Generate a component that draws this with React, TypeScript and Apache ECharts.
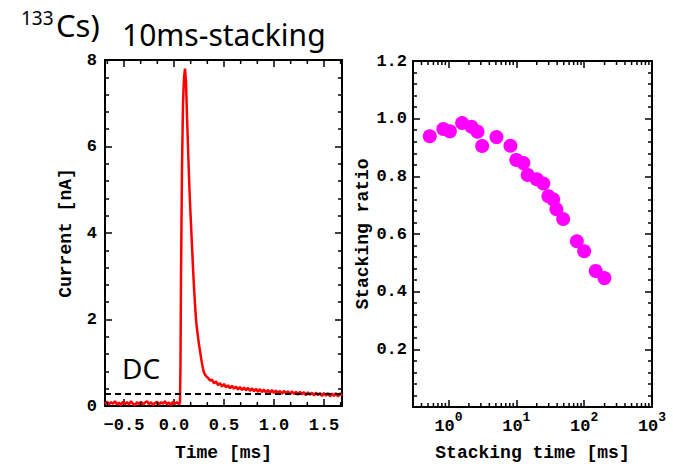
import React, { useEffect, useRef } from "react";
import * as echarts from "echarts";

// ---------- Data ----------
// Left panel: current trace [time ms, current nA]
const baselineTrace: number[][] = [
  [-0.69, 0.05], [-0.67, 0.1], [-0.65, 0.03], [-0.63, 0.09], [-0.61, 0.05], [-0.59, 0.11],
  [-0.57, 0.03], [-0.55, 0.08], [-0.53, 0.02], [-0.51, 0.1], [-0.49, 0.04], [-0.47, 0.09],
  [-0.45, 0.03], [-0.43, 0.11], [-0.41, 0.05], [-0.39, 0.02], [-0.37, 0.09], [-0.35, 0.04],
  [-0.33, 0.1], [-0.31, 0.03], [-0.29, 0.08], [-0.27, 0.11], [-0.25, 0.04], [-0.23, 0.09],
  [-0.21, 0.02], [-0.19, 0.07], [-0.17, 0.1], [-0.15, 0.03], [-0.13, 0.09], [-0.11, 0.05],
  [-0.09, 0.11], [-0.07, 0.04], [-0.05, 0.08], [-0.03, 0.02], [-0.01, 0.1], [0.01, 0.05],
  [0.03, 0.09], [0.05, 0.04], [0.06, 0.08],
];
const pulseTrace: number[][] = [
  [0.065, 1.0], [0.07, 3.0], [0.08, 5.5], [0.09, 7.0], [0.1, 7.6], [0.11, 7.8], [0.12, 7.5],
  [0.13, 6.7], [0.14, 6.0], [0.15, 5.3], [0.16, 4.7], [0.17, 4.2], [0.18, 3.7], [0.19, 3.2],
  [0.2, 2.75], [0.21, 2.35], [0.22, 2.0], [0.23, 1.78], [0.24, 1.6], [0.25, 1.42], [0.26, 1.28],
  [0.27, 1.12], [0.28, 0.98], [0.29, 0.86], [0.3, 0.77],
];
const tailTrace: number[][] = [
  [0.32, 0.69], [0.34, 0.65], [0.36, 0.59], [0.38, 0.61], [0.4, 0.52], [0.42, 0.57], [0.44, 0.48],
  [0.46, 0.53], [0.48, 0.45], [0.5, 0.51], [0.52, 0.43], [0.54, 0.48], [0.56, 0.41], [0.58, 0.47],
  [0.6, 0.4], [0.62, 0.45], [0.64, 0.38], [0.66, 0.44], [0.68, 0.37], [0.7, 0.43], [0.72, 0.36],
  [0.74, 0.42], [0.76, 0.35], [0.78, 0.41], [0.8, 0.34], [0.82, 0.4], [0.84, 0.33], [0.86, 0.39],
  [0.88, 0.32], [0.9, 0.38], [0.92, 0.31], [0.94, 0.37], [0.96, 0.3], [0.98, 0.37], [1.0, 0.3],
  [1.02, 0.36], [1.04, 0.29], [1.06, 0.35], [1.08, 0.28], [1.1, 0.35], [1.12, 0.29], [1.14, 0.34],
  [1.16, 0.27], [1.18, 0.34], [1.2, 0.28], [1.22, 0.33], [1.24, 0.26], [1.26, 0.33], [1.28, 0.27],
  [1.3, 0.32], [1.32, 0.25], [1.34, 0.32], [1.36, 0.26], [1.38, 0.31], [1.4, 0.24], [1.42, 0.31],
  [1.44, 0.25], [1.46, 0.3], [1.48, 0.23], [1.5, 0.3], [1.52, 0.24], [1.54, 0.3], [1.56, 0.22],
  [1.58, 0.29], [1.6, 0.23], [1.62, 0.3], [1.64, 0.22], [1.66, 0.29], [1.68, 0.24],
];
const dcLevel = 0.29;

// Right panel: stacking time [ms] vs stacking ratio
const stackingTime: number[] = [
  0.53, 0.84, 1.05, 1.59, 2.19, 2.68, 3.14, 5.1, 8.2, 10, 12.7, 14.7, 20, 25, 29.7, 35, 39, 49, 78, 100, 148, 199,
];
const stackingRatio: number[] = [
  0.939, 0.964, 0.956, 0.985, 0.972, 0.955, 0.905, 0.936, 0.906, 0.857, 0.846, 0.805, 0.79, 0.775, 0.731, 0.72,
  0.686, 0.652, 0.575, 0.54, 0.472, 0.447,
];

// Axis ranges / labels
const leftX = { min: -0.69, max: 1.68 };
const leftY = { min: 0, max: 8, interval: 2 };
const rightX = { min: 0.3, max: 1000 };
const rightY = { min: 0, max: 1.2, interval: 0.2 };

const MONO = '"Liberation Mono", "DejaVu Sans Mono", monospace';
const SANS = '"Noto Sans", "Open Sans", sans-serif';

// minor tick positions (axis decoration)
const leftXMinor: number[] = [];
for (let k = -5; k <= 11; k++) {
  const v = k / 6;
  if (k % 3 !== 0 && v > leftX.min && v < leftX.max) leftXMinor.push(v);
}
const rightXMinor: number[] = [];
for (let d = -1; d <= 2; d++) {
  for (let m = 2; m <= 9; m++) {
    const v = m * Math.pow(10, d);
    if (v > rightX.min * 1.001 && v < rightX.max) rightXMinor.push(v);
  }
}

function minorTickSeries(xi: number, yi: number, values: number[], yMin: number, yMax: number, len: number) {
  return {
    type: "custom",
    xAxisIndex: xi,
    yAxisIndex: yi,
    silent: true,
    clip: false,
    z: 10,
    data: [[values[0], (yMin + yMax) / 2]],
    renderItem: (_p: any, api: any) => {
      const children: any[] = [];
      values.forEach((v) => {
        const b = api.coord([v, yMin]);
        const t = api.coord([v, yMax]);
        children.push({
          type: "line",
          shape: { x1: b[0], y1: b[1], x2: b[0], y2: b[1] - len },
          style: { stroke: "#000", lineWidth: 1.5 },
        });
        children.push({
          type: "line",
          shape: { x1: t[0], y1: t[1], x2: t[0], y2: t[1] + len },
          style: { stroke: "#000", lineWidth: 1.5 },
        });
      });
      return { type: "group", children };
    },
  };
}

const axisLineStyle = { show: true, onZero: false, lineStyle: { color: "#000", width: 2 } };
const majorTick = { show: true, inside: true, length: 7, lineStyle: { color: "#000", width: 1.5 } };
const minorTick = { show: true, splitNumber: 5, length: 4, lineStyle: { color: "#000", width: 1.5 } };
const labelStyle = { color: "#000", fontFamily: MONO, fontWeight: "bold" as const, fontSize: 17 };
const nameStyle = { color: "#000", fontFamily: MONO, fontWeight: "bold" as const, fontSize: 18 };

export default function App() {
  const ref = useRef<HTMLDivElement>(null);
  useEffect(() => {
    if (!ref.current) return;
    const chart = echarts.init(ref.current, null, { renderer: "svg" });
    const trace = [...baselineTrace, ...pulseTrace, ...tailTrace];
    const scatter = stackingTime.map((t, i) => [t, stackingRatio[i]]);
    chart.setOption({
      animation: false,
      backgroundColor: "#fff",
      grid: [
        { left: 105, top: 60, width: 237, height: 347 },
        { left: 413, top: 61, width: 239, height: 347 },
      ],
      xAxis: [
        {
          type: "value", gridIndex: 0, position: "bottom", min: leftX.min, max: leftX.max,
          axisLine: axisLineStyle, axisTick: majorTick, splitLine: { show: false },
          axisLabel: {
            ...labelStyle, margin: 11, showMinLabel: false, showMaxLabel: false,
            formatter: (v: number) => (v < 0 ? "\u2212" + Math.abs(v).toFixed(1) : v.toFixed(1)),
          },
          name: "Time [ms]", nameLocation: "middle", nameGap: 38, nameTextStyle: nameStyle,
        },
        {
          type: "value", gridIndex: 0, position: "top", min: leftX.min, max: leftX.max,
          axisLine: axisLineStyle, axisTick: majorTick, splitLine: { show: false },
          axisLabel: { show: false },
        },
        {
          type: "log", logBase: 10, gridIndex: 1, position: "bottom", min: rightX.min, max: rightX.max,
          axisLine: axisLineStyle, axisTick: majorTick, splitLine: { show: false },
          axisLabel: {
            ...labelStyle, margin: 4, showMinLabel: false,
            formatter: (v: number) => `{b|10}{s|${Math.round(Math.log10(v))}}`,
            rich: {
              b: { fontFamily: MONO, fontWeight: "bold", fontSize: 17, lineHeight: 24, verticalAlign: "bottom", color: "#000" },
              s: { fontFamily: MONO, fontWeight: "bold", fontSize: 13, lineHeight: 14, verticalAlign: "top", color: "#000" },
            },
          },
          name: "Stacking time [ms]", nameLocation: "middle", nameGap: 37, nameTextStyle: nameStyle,
        },
        {
          type: "log", logBase: 10, gridIndex: 1, position: "top", min: rightX.min, max: rightX.max,
          axisLine: axisLineStyle, axisTick: majorTick, splitLine: { show: false },
          axisLabel: { show: false },
        },
      ],
      yAxis: [
        {
          type: "value", gridIndex: 0, position: "left", min: leftY.min, max: leftY.max, interval: leftY.interval,
          axisLine: axisLineStyle, axisTick: majorTick, minorTick, splitLine: { show: false },
          axisLabel: { ...labelStyle, margin: 8 },
          name: "Current [nA]", nameLocation: "middle", nameGap: 30, nameTextStyle: nameStyle,
        },
        {
          type: "value", gridIndex: 0, position: "right", min: leftY.min, max: leftY.max, interval: leftY.interval,
          axisLine: axisLineStyle, axisTick: majorTick, minorTick, splitLine: { show: false },
          axisLabel: { show: false },
        },
        {
          type: "value", gridIndex: 1, position: "left", min: rightY.min, max: rightY.max, interval: rightY.interval,
          axisLine: axisLineStyle, axisTick: majorTick, minorTick, splitLine: { show: false },
          axisLabel: { ...labelStyle, margin: 6, formatter: (v: number) => (v === 0 ? "" : v.toFixed(1)) },
          name: "Stacking ratio", nameLocation: "middle", nameGap: 40, nameTextStyle: nameStyle,
        },
        {
          type: "value", gridIndex: 1, position: "right", min: rightY.min, max: rightY.max, interval: rightY.interval,
          axisLine: axisLineStyle, axisTick: majorTick, minorTick, splitLine: { show: false },
          axisLabel: { show: false },
        },
      ],
      series: [
        {
          type: "line", xAxisIndex: 0, yAxisIndex: 0, data: trace, showSymbol: false,
          lineStyle: { color: "#ff0000", width: 2.5 }, z: 3,
          markLine: {
            silent: true, symbol: ["none", "none"], label: { show: false },
            lineStyle: { type: [6, 4], color: "#000", width: 2 },
            data: [{ yAxis: dcLevel }],
          },
        },
        {
          type: "scatter", xAxisIndex: 2, yAxisIndex: 2, data: scatter, symbolSize: 14,
          itemStyle: { color: "#ff00ff", opacity: 1 },
        },
        minorTickSeries(0, 0, leftXMinor, leftY.min, leftY.max, 4),
        minorTickSeries(2, 2, rightXMinor, rightY.min, rightY.max, 4),
      ],
      graphic: [
        { type: "text", left: 21, top: 8, style: { text: "133", font: `19px ${SANS}`, fill: "#000" } },
        { type: "text", left: 56, top: 9, style: { text: "Cs)", font: `31px ${SANS}`, fill: "#000" } },
        { type: "text", left: 122, top: 19, style: { text: "10ms-stacking", font: `30px ${SANS}`, fill: "#000" } },
        { type: "text", left: 122, top: 354, style: { text: "DC", font: `28px ${SANS}`, fill: "#000" } },
      ],
    });
    return () => chart.dispose();
  }, []);
  return <div ref={ref} style={{ width: 673, height: 467, position: "absolute", left: 0, top: 0 }} />;
}
